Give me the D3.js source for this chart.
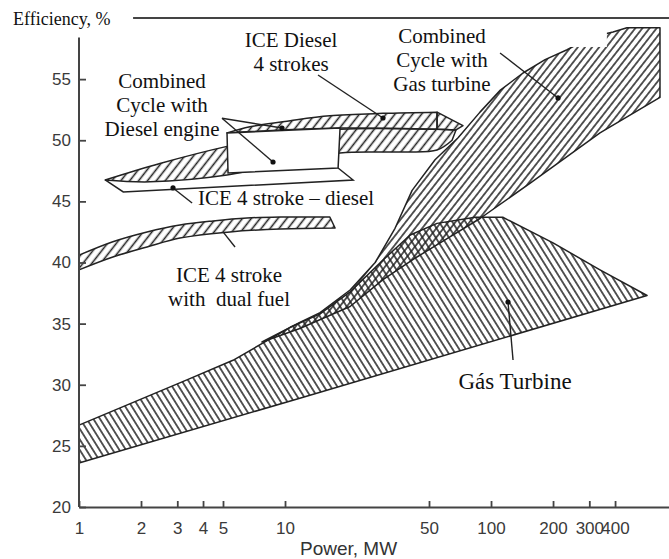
<!DOCTYPE html>
<html>
<head>
<meta charset="utf-8">
<script src="https://cdn.jsdelivr.net/npm/d3@7"></script>
<style>
  body { margin: 0; background: #fff; }
  svg { display: block; }
</style>
</head>
<body>
<div id="chart"></div>
<script>
// Page size and plot frame
const width = 669, height = 559;
const frame = { left: 79, right: 669, top: 18, bottom: 507 };

// Axis ticks
const powerTicks = [1, 2, 3, 4, 5, 10, 50, 100, 200, 300, 400];
const efficiencyTicks = [20, 25, 30, 35, 40, 45, 50, 55];

// Regions as [power MW, efficiency %]
const gasTurbineUpper = [[1, 26.7], [3.34, 30.4], [5.59, 32.0], [10.6, 34.7], [14.8, 35.8], [20.7, 37.6],
  [29.9, 40.2], [40.5, 42.25], [54.7, 43.2], [83.6, 43.7], [114, 43.7], [200, 41.6], [338, 39.4], [572, 37.3]];
const gasTurbineLower = [[1, 23.6], [11.8, 28.9], [572, 37.3]];

const combinedGasUpper = [[7.73, 33.5], [11.8, 35.1], [14.8, 35.9], [20.7, 37.75], [27.4, 40.0], [34.2, 42.8],
  [41.4, 45.9], [53.5, 48.4], [69.2, 50.2], [88.4, 52.3], [111, 54.1], [143, 55.5], [183, 56.6], [234, 57.4],
  [302, 58.4], [391, 58.85], [457, 59.2], [661, 59.2]];
const combinedGasLower = [[7.73, 33.5], [11.8, 34.6], [20.7, 36.4], [29.9, 38.6], [43.7, 40.45], [63.2, 42.1],
  [88.4, 43.6], [155, 46.5], [338, 50.6], [661, 53.5]];

const dieselUpper = [[5.23, 50.6], [6.76, 51.1], [10.6, 51.6], [16.5, 52.0], [29.9, 52.2], [54.7, 52.3]];
const dieselLower = [[5.23, 50.6], [18.5, 51.0], [54.7, 50.9]];
const dieselTailUpper = [[54.7, 52.3], [73.1, 51.2]];
const dieselTailLower = [[54.7, 50.9], [67.6, 50.84]];

const stroke4Upper = [[1.34, 46.75], [2.47, 48.1], [5.23, 49.5], [9.46, 50.35], [18.5, 50.9], [54.7, 50.9], [67.6, 50.84]];
const stroke4Lower = [[1.34, 46.75], [2.21, 46.6], [5.23, 47.16], [9.46, 48.06], [18.5, 48.96], [36.2, 49.04],
  [54.7, 49.2], [64.7, 50.0]];
const stroke4Outline = [[1.34, 46.75], [1.64, 45.77], [21.4, 46.75], [18.1, 47.73]];

const dualFuelUpper = [[1, 40.6], [1.46, 41.7], [2.14, 42.5], [3.09, 43.07], [4.47, 43.4], [6.54, 43.64],
  [9.46, 43.72], [16.5, 43.72]];
const dualFuelLower = [[1, 39.4], [1.46, 40.45], [2.14, 41.27], [3.09, 42.0], [5.41, 42.5], [9.46, 42.74], [17.5, 42.82]];

const combinedDieselBox = [[5.23, 50.6], [18.5, 51.0], [18.1, 47.73], [5.29, 47.32]];

// Scales (log power, linear efficiency)
const x = d3.scaleLog().domain([1, 731]).range([frame.left, frame.right]);
const y = d3.scaleLinear().domain([20, 60]).range([frame.bottom, frame.top]);

const svg = d3.select("#chart").append("svg")
  .attr("width", width)
  .attr("height", height);

// Hatch patterns
const defs = svg.append("defs");
function hatch(id, spacing, angle, lineWidth) {
  const p = defs.append("pattern")
    .attr("id", id)
    .attr("patternUnits", "userSpaceOnUse")
    .attr("width", spacing)
    .attr("height", spacing)
    .attr("patternTransform", `rotate(${angle})`);
  p.append("line")
    .attr("x1", spacing / 2).attr("y1", -1)
    .attr("x2", spacing / 2).attr("y2", spacing + 1)
    .attr("stroke", "#222")
    .attr("stroke-width", lineWidth);
}
hatch("hatch-gt", 5.6, -32, 1.5);
hatch("hatch-cc", 5.6, 38, 1.5);
hatch("hatch-ice", 7, 38, 1.6);

// Build closed shape from an upper and a lower edge
const edge = d3.line().x(d => x(d[0])).y(d => y(d[1]));
function regionPath(upper, lower, curve) {
  edge.curve(curve);
  const top = edge(upper);
  const bottom = edge(lower.slice().reverse());
  return top + "L" + bottom.slice(1) + "Z";
}

function drawRegion(upper, lower, pattern, curve) {
  svg.append("path")
    .attr("d", regionPath(upper, lower, curve))
    .attr("fill", `url(#${pattern})`)
    .attr("stroke", "#222")
    .attr("stroke-width", 1.5)
    .attr("stroke-linejoin", "round");
}

drawRegion(gasTurbineUpper, gasTurbineLower, "hatch-gt", d3.curveLinear);
drawRegion(combinedGasUpper, combinedGasLower, "hatch-cc", d3.curveLinear);
drawRegion(dualFuelUpper, dualFuelLower, "hatch-ice", d3.curveCatmullRom);
drawRegion(stroke4Upper, stroke4Lower, "hatch-ice", d3.curveCatmullRom);
drawRegion(dieselUpper, dieselLower, "hatch-ice", d3.curveCatmullRom);
drawRegion(dieselTailUpper, dieselTailLower, "hatch-ice", d3.curveLinear);

// Combined cycle with diesel engine: open box
svg.append("path")
  .attr("d", d3.line().x(d => x(d[0])).y(d => y(d[1]))(combinedDieselBox) + "Z")
  .attr("fill", "#fff")
  .attr("stroke", "#222")
  .attr("stroke-width", 1.5);

svg.append("path")
  .attr("d", d3.line().x(d => x(d[0])).y(d => y(d[1]))(stroke4Outline))
  .attr("fill", "none")
  .attr("stroke", "#222")
  .attr("stroke-width", 1.5);

// Axes
const xAxis = svg.append("g")
  .attr("transform", `translate(0,${frame.bottom})`)
  .call(d3.axisBottom(x).tickValues(powerTicks).tickFormat(d3.format("d"))
    .tickSize(-6).tickSizeOuter(0).tickPadding(15));

const yAxis = svg.append("g")
  .attr("transform", `translate(${x(1)},0)`)
  .call(d3.axisLeft(y).tickValues(efficiencyTicks).tickSize(-7).tickSizeOuter(0).tickPadding(8));
yAxis.select(".domain").remove();

svg.append("line")
  .attr("x1", x(1)).attr("x2", x(1))
  .attr("y1", y(20)).attr("y2", y(58.4))
  .attr("stroke", "#444").attr("stroke-width", 2);

[xAxis, yAxis].forEach(g => {
  g.selectAll(".domain, .tick line").attr("stroke", "#444").attr("stroke-width", 1.8);
  g.selectAll("text")
    .attr("fill", "#3a3a3a")
    .style("font-family", "'Liberation Sans', Arial, sans-serif")
    .style("font-size", "17px");
});

// Top frame line
svg.append("line")
  .attr("x1", x(1.83)).attr("x2", frame.right)
  .attr("y1", y(60)).attr("y2", y(60))
  .attr("stroke", "#444").attr("stroke-width", 2);

// Axis titles
svg.append("text")
  .attr("x", 13).attr("y", 25)
  .style("font-family", "'Liberation Serif', 'Times New Roman', serif")
  .style("font-size", "18px")
  .attr("fill", "#111")
  .text("Efficiency, %");

svg.append("text")
  .attr("x", 300).attr("y", 555)
  .style("font-family", "'Liberation Sans', Arial, sans-serif")
  .style("font-size", "19px")
  .attr("fill", "#333")
  .text("Power, MW");

// Label background that cuts the combined cycle region
svg.append("rect")
  .attr("x", x(44.2)).attr("y", y(59.75))
  .attr("width", x(365) - x(44.2))
  .attr("height", y(57.63) - y(59.75))
  .attr("fill", "#fff");

// Pointers from labels to regions
const pointers = [
  { from: [4.945, 51.8], to: [8.745, 48.22], dot: true },
  { from: [4.945, 51.8], to: [9.67, 51.0], dot: true },
  { from: [14.46, 55.34], to: [29.9, 51.82], dot: true },
  { from: [110.6, 57.14], to: [211.5, 53.46], dot: true },
  { from: [3.54, 44.87], to: [2.86, 46.1], dot: true },
  { from: [5.72, 41.27], to: [5.0, 42.5], dot: false },
  { from: [127.9, 32.02], to: [120.9, 36.77], dot: true }
];
pointers.forEach(p => {
  svg.append("line")
    .attr("x1", x(p.from[0])).attr("y1", y(p.from[1]))
    .attr("x2", x(p.to[0])).attr("y2", y(p.to[1]))
    .attr("stroke", "#222").attr("stroke-width", 1.4);
  if (p.dot) {
    svg.append("circle")
      .attr("cx", x(p.to[0])).attr("cy", y(p.to[1]))
      .attr("r", 2.6).attr("fill", "#111");
  }
});

// Region labels
const labels = [
  { lines: ["Combined", "Cycle with", "Diesel engine"], at: [2.53, 54.27], anchor: "middle", size: 21 },
  { lines: ["ICE Diesel", "4 strokes"], at: [10.7, 57.63], anchor: "middle", size: 21 },
  { lines: ["Combined", "Cycle with", "Gas turbine"], at: [57.8, 57.96], anchor: "middle", size: 21 },
  { lines: ["ICE 4 stroke \u2013 diesel"], at: [3.78, 44.7], anchor: "start", size: 21 },
  { lines: ["ICE 4 stroke", "with  dual fuel"], at: [5.35, 38.4], anchor: "middle", size: 21 },
  { lines: ["Gás Turbine"], at: [130.8, 29.65], anchor: "middle", size: 23 }
];
labels.forEach(l => {
  const t = svg.append("text")
    .attr("x", x(l.at[0])).attr("y", y(l.at[1]))
    .attr("text-anchor", l.anchor)
    .style("font-family", "'Liberation Serif', 'Times New Roman', serif")
    .style("font-size", l.size + "px")
    .style("white-space", "pre")
    .attr("fill", "#111");
  l.lines.forEach((s, i) => {
    t.append("tspan")
      .attr("x", x(l.at[0]))
      .attr("dy", i === 0 ? 0 : 24)
      .text(s);
  });
});
</script>
</body>
</html>
